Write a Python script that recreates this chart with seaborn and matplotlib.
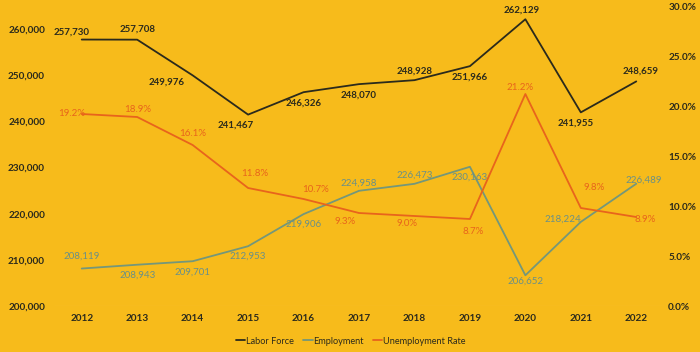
import matplotlib
matplotlib.use("Agg")
import matplotlib.pyplot as plt
import seaborn as sns
import pandas as pd
from matplotlib.lines import Line2D
from matplotlib.ticker import FuncFormatter, MultipleLocator

years = ["2012", "2013", "2014", "2015", "2016", "2017", "2018", "2019", "2020", "2021", "2022"]
labor_force = [257730, 257708, 249976, 241467, 246326, 248070, 248928, 251966, 262129, 241955, 248659]
employment = [208119, 208943, 209701, 212953, 219906, 224958, 226473, 230163, 206652, 218224, 226489]
unemployment_rate = [19.2, 18.9, 16.1, 11.8, 10.7, 9.3, 9.0, 8.7, 21.2, 9.8, 8.9]

# label offsets in pixels (style only)
lf_off = [(-10, 7), (0, 11), (-26, -7), (-12, -11), (0, -11), (0, -11), (0, 9), (0, -11), (-4, 9), (-5, -11), (4, 10)]
em_off = [(0, 12), (0, -10), (0, -11), (0, -10), (0, -10), (0, 8), (0, 9), (0, -10), (0, -6), (-18, 3), (7, 4)]
ur_off = [(-10, 0), (0, 8), (0, 11), (7, 15), (12, 9), (-14, -9), (-7, -8), (3, -13), (-5, 7), (13, 21), (9, -2)]

BG = "#F7BB1B"
C_LF = "#2B2A1C"
C_EM = "#74977A"
C_EM_T = "#6A9087"
C_UR = "#E8641C"
C_TXT = "#2B2A1C"

sns.set_theme(style="white")
plt.rcParams["font.family"] = ["Lato", "DejaVu Sans"]

df = pd.DataFrame({"i": range(len(years)), "year": years, "lf": labor_force,
                   "em": employment, "ur": unemployment_rate})

fig = plt.figure(figsize=(7.0, 3.52), dpi=100, facecolor=BG)
ax = fig.add_axes([54 / 700, 46 / 352, 610 / 700, 300 / 352])
ax.set_facecolor(BG)
ax2 = ax.twinx()

sns.lineplot(data=df, x="i", y="lf", ax=ax, color=C_LF, linewidth=1.3, legend=False)
sns.lineplot(data=df, x="i", y="em", ax=ax, color=C_EM, linewidth=1.3, legend=False)
sns.lineplot(data=df, x="i", y="ur", ax=ax2, color=C_UR, linewidth=1.3, legend=False)

ax.set_xlim(-0.5, len(years) - 0.5)
ax.set_ylim(200000, 265000)
ax2.set_ylim(0, 30)
ax.yaxis.set_major_locator(MultipleLocator(10000))
ax2.yaxis.set_major_locator(MultipleLocator(5))
ax.yaxis.set_major_formatter(FuncFormatter(lambda v, p: f"{int(v):,}"))
ax2.yaxis.set_major_formatter(FuncFormatter(lambda v, p: f"{v:.1f}%"))
ax.set_xticks(range(len(years)))
ax.set_xticklabels(years)

for a in (ax, ax2):
    a.set_xlabel("")
    a.set_ylabel("")
    for s in a.spines.values():
        s.set_visible(False)
    a.tick_params(length=0, labelsize=7.2, colors=C_TXT)
    for lab in a.get_yticklabels() + a.get_xticklabels():
        lab.set_fontweight("bold")
ax.tick_params(axis="y", pad=6.5)
ax2.tick_params(axis="y", pad=3)
ax.tick_params(axis="x", pad=6)
ax.axhline(200000, color="#F9CB55", linewidth=0.8, zorder=0)

for i in range(len(years)):
    dx, dy = lf_off[i]
    ax.annotate(f"{labor_force[i]:,}", (i, labor_force[i]), xytext=(dx, dy),
                textcoords="offset pixels", ha="center", va="center",
                fontsize=7.0, fontweight="bold", color=C_TXT)
    dx, dy = em_off[i]
    ax.annotate(f"{employment[i]:,}", (i, employment[i]), xytext=(dx, dy),
                textcoords="offset pixels", ha="center", va="center",
                fontsize=7.0, color=C_EM_T)
    dx, dy = ur_off[i]
    ax2.annotate(f"{unemployment_rate[i]:.1f}%", (i, unemployment_rate[i]), xytext=(dx, dy),
                 textcoords="offset pixels", ha="center", va="center",
                 fontsize=7.0, color=C_UR)

handles = [Line2D([], [], color=C_LF, lw=1.3), Line2D([], [], color=C_EM, lw=1.3),
           Line2D([], [], color=C_UR, lw=1.3)]
fig.legend(handles, ["Labor Force", "Employment", "Unemployment Rate"],
           loc="center", bbox_to_anchor=(351 / 700, 1 - 341 / 352), ncol=3,
           frameon=False, fontsize=6.6, handlelength=1.0, handletextpad=0.1,
           columnspacing=1.0, labelcolor=C_TXT)

fig.savefig("out.png", dpi=100, facecolor=BG)
